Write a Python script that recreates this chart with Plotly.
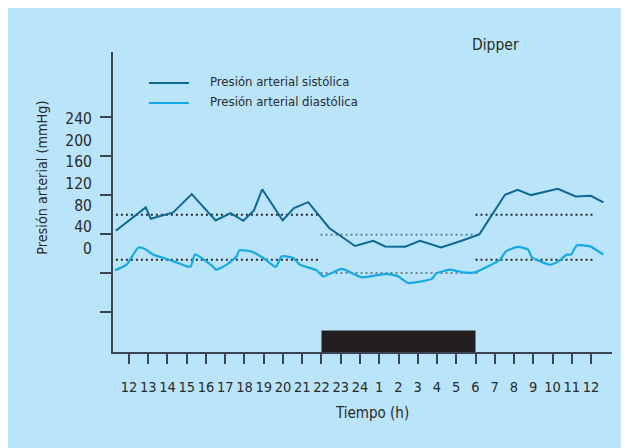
import plotly.graph_objects as go

# ---- data ----
hour_labels = ["12", "13", "14", "15", "16", "17", "18", "19", "20", "21", "22", "23", "24",
               "1", "2", "3", "4", "5", "6", "7", "8", "9", "10", "11", "12"]
y_tick_labels = ["240", "200", "160", "120", "80", "40", "0"]

# hours elapsed since 12:00
sys_x = [-0.68, 0.87, 1.13, 2.30, 3.26, 4.50, 5.28, 5.94, 6.49, 6.92, 7.98, 8.57, 9.31, 9.83,
         10.40, 11.74, 12.69, 13.30, 14.34, 15.12, 16.21, 17.28, 18.20, 19.53, 20.19, 20.88,
         22.27, 23.21, 24.00, 24.64]
sys_y = [123.6, 147.5, 135.9, 142.4, 161.2, 134.2, 141.7, 133.8, 144.4, 166.2, 134.2, 146.9,
         153.0, 140.0, 126.4, 107.9, 113.3, 107.5, 107.2, 113.3, 106.5, 113.3, 119.8, 160.5,
         165.6, 160.2, 166.7, 158.8, 159.5, 152.6]

dia_x = [-0.73, -0.12, 0.48, 0.83, 1.26, 1.96, 2.65, 3.00, 3.21, 3.43, 4.38, 4.52, 5.08, 5.59,
         5.73, 6.37, 6.98, 7.62, 7.93, 8.54, 8.88, 9.75, 10.09, 11.05, 12.09, 13.39, 13.99,
         14.51, 15.73, 15.95, 16.68, 17.37, 17.97, 19.27, 19.58, 20.19, 20.74, 20.92, 21.87,
         22.30, 22.74, 22.96, 23.26, 23.95, 24.64]
dia_y = [82.9, 88.7, 106.2, 104.8, 99.0, 94.6, 89.7, 87.0, 87.0, 99.3, 86.4, 83.6, 88.7, 97.2,
         103.4, 102.1, 95.6, 86.4, 97.2, 95.6, 88.7, 82.9, 76.7, 84.3, 75.7, 79.2, 76.7, 69.9,
         74.1, 79.5, 83.6, 80.8, 80.8, 93.8, 102.4, 106.9, 104.1, 96.6, 88.7, 92.1, 99.0, 99.0,
         108.5, 107.5, 99.0]

period_start = [-0.68, 9.95, 18.0]
period_end = [9.83, 18.1, 24.1]
sys_mean = [140.0, 119.5, 140.0]
dia_mean = [93.8, 80.2, 93.8]
night_start, night_end = 10, 18   # 22 h to 6 h

# ---- layout constants (pixels) ----
W, H = 629, 448
OFF = 8                      # page body margin offset
PL, PR, PT, PB = 113, 612, 52, 352.5   # plot area edges in page pixels
L, T = PL - OFF, PT - OFF
R, B = W - (PR - OFF), H - (PB - OFF)
PW, PH = PR - PL, PB - PT
Y0, Y1 = -1.0, 307.2
X0, X1 = -0.83, 25.09
BG = "#b9e4f9"
AX = "#3b4650"
TXT = "#2b2b2b"
FONT = "DejaVu Sans Condensed, sans-serif"
SYS_C = "#0c6994"
DIA_C = "#15a9e6"


def px_x(p):
    return (p - PL) / PW


def px_y(p):
    return (PB - p) / PH


def val_from_py(p):
    return Y0 + (PB - p) / PH * (Y1 - Y0)


fig = go.Figure()

mean_colors = ["#2a2a2a", "#6d8593", "#2a2a2a"]
for i in range(len(period_start)):
    for m in (sys_mean, dia_mean):
        fig.add_trace(go.Scatter(
            x=[period_start[i], period_end[i]], y=[m[i], m[i]], mode="lines",
            line=dict(color=mean_colors[i], width=2, dash="2px,3px"),
            showlegend=False, hoverinfo="skip"))

fig.add_trace(go.Scatter(x=sys_x, y=sys_y, mode="lines", name="Presión arterial sistólica",
                         line=dict(color=SYS_C, width=2), showlegend=False))
fig.add_trace(go.Scatter(x=dia_x, y=dia_y, mode="lines", name="Presión arterial diastólica",
                         line=dict(color=DIA_C, width=2.2, shape="spline", smoothing=0.5),
                         showlegend=False))

# y tick label overlay axis (labels are offset from tick marks in the original)
label_top_px, label_step_px = 119.0, 21.6
label_vals = [val_from_py(label_top_px + i * label_step_px) for i in range(len(y_tick_labels))]
fig.add_trace(go.Scatter(x=[None], y=[None], yaxis="y2", showlegend=False, hoverinfo="skip"))

shapes = [
    # night bar
    dict(type="rect", xref="x", yref="y", x0=night_start, x1=night_end, y0=Y0, y1=21,
         fillcolor="#231f20", line=dict(width=0)),
    # legend lines
    dict(type="line", xref="paper", yref="paper", x0=px_x(149), x1=px_x(189), y0=px_y(83), y1=px_y(83),
         line=dict(color=SYS_C, width=2)),
    dict(type="line", xref="paper", yref="paper", x0=px_x(149), x1=px_x(189), y0=px_y(103), y1=px_y(103),
         line=dict(color=DIA_C, width=2)),
]

annotations = [
    dict(text="Presión arterial sistólica", xref="paper", yref="paper", x=px_x(208), y=px_y(82),
         xanchor="left", yanchor="middle", showarrow=False, font=dict(size=13, color=TXT, family=FONT)),
    dict(text="Presión arterial diastólica", xref="paper", yref="paper", x=px_x(208), y=px_y(102),
         xanchor="left", yanchor="middle", showarrow=False, font=dict(size=13, color=TXT, family=FONT)),
    dict(text="Dipper", xref="paper", yref="paper", x=px_x(495), y=px_y(45),
         xanchor="center", yanchor="middle", showarrow=False, font=dict(size=15.5, color=TXT, family=FONT)),
    dict(text="Presión arterial (mmHg)", xref="paper", yref="paper", x=px_x(42), y=px_y(178),
         xanchor="center", yanchor="middle", textangle=-90, showarrow=False,
         font=dict(size=14.3, color=TXT, family=FONT)),
    dict(text="Tiempo (h)", xref="paper", yref="paper", x=px_x(372), y=px_y(414),
         xanchor="center", yanchor="middle", showarrow=False, font=dict(size=15, color=TXT, family=FONT)),
]

fig.update_layout(
    width=W, height=H,
    margin=dict(l=L, r=R, t=T, b=B, pad=0),
    paper_bgcolor=BG, plot_bgcolor=BG,
    showlegend=False,
    shapes=shapes, annotations=annotations,
    font=dict(family=FONT, color=TXT, size=15),
    xaxis=dict(range=[X0, X1], tickvals=list(range(len(hour_labels))), ticktext=hour_labels,
               tickangle=0, showgrid=False, zeroline=False, showline=True, linecolor=AX, linewidth=2,
               ticks="outside", ticklen=10, tickwidth=2, tickcolor=AX,
               ticklabelstandoff=11, tickfont=dict(size=14.5, color=TXT, family=FONT), fixedrange=True),
    yaxis=dict(range=[Y0, Y1], tickvals=[40, 80, 120, 160, 200, 240], showticklabels=False,
               showgrid=False, zeroline=False, showline=True, linecolor=AX, linewidth=2,
               ticks="outside", ticklen=11, tickwidth=2, tickcolor=AX, fixedrange=True),
    yaxis2=dict(range=[Y0, Y1], overlaying="y", side="left", anchor="x",
                tickvals=label_vals, ticktext=y_tick_labels, showgrid=False, zeroline=False,
                showline=False, ticks="outside", ticklen=17, tickcolor="rgba(0,0,0,0)",
                tickfont=dict(size=15.5, color=TXT, family=FONT), fixedrange=True),
)

fig.write_html("out.html")
